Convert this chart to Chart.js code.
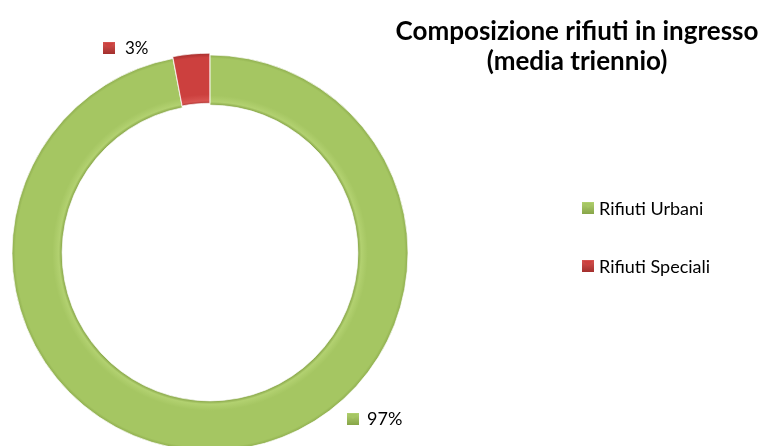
<!DOCTYPE html>
<html>
<head>
<meta charset="utf-8">
<script src="https://cdn.jsdelivr.net/npm/chart.js@4.4.0/dist/chart.umd.min.js"></script>
<style>
  html, body { margin: 0; padding: 0; background: #fff; overflow: hidden; }
  #wrap { position: relative; width: 759px; height: 470px; }
</style>
</head>
<body>
<div id="wrap"><canvas id="c"></canvas></div>
<script>
const categories = ['Rifiuti Urbani', 'Rifiuti Speciali'];
const values = [97, 3];
const titleLines = ['Composizione rifiuti in ingresso', '(media triennio)'];
const baseColors = ['#A5C662', '#CC403E'];
const edgeColors = ['#87A548', '#A32F2D'];
const lightColors = ['#B2D170', '#D85451'];

const FONT = 'Lato, "Open Sans", sans-serif';

function fillFor(ctx) {
  const i = ctx.dataIndex;
  const chart = ctx.chart;
  const ca = chart.chartArea;
  if (!ca) return baseColors[i];
  const cx = (ca.left + ca.right) / 2, cy = (ca.top + ca.bottom) / 2;
  const R = 198, r = R * 0.747;
  const g = chart.ctx.createRadialGradient(cx, cy, r, cx, cy, R + 4);
  g.addColorStop(0, edgeColors[i]);
  g.addColorStop(0.06, lightColors[i]);
  g.addColorStop(0.18, baseColors[i]);
  g.addColorStop(0.86, baseColors[i]);
  g.addColorStop(0.95, edgeColors[i]);
  g.addColorStop(1, edgeColors[i]);
  return g;
}

function marker(ctx, x, y, s, i) {
  const g = ctx.createLinearGradient(x, y, x, y + s);
  g.addColorStop(0, lightColors[i]);
  g.addColorStop(1, edgeColors[i]);
  ctx.fillStyle = g;
  ctx.fillRect(x, y, s, s);
  ctx.fillStyle = baseColors[i];
  ctx.beginPath();
  ctx.moveTo(x + 1, y + 1);
  ctx.lineTo(x + s - 1, y + 1);
  ctx.lineTo(x + s / 2, y + s / 2);
  ctx.closePath();
  ctx.fill();
}

const textPlugin = {
  id: 'texts',
  afterDraw(chart) {
    const ctx = chart.ctx;
    ctx.save();
    // title
    ctx.fillStyle = '#000';
    ctx.textAlign = 'center';
    ctx.textBaseline = 'alphabetic';
    ctx.font = 'bold 26px ' + FONT;
    ctx.fillText(titleLines[0], 577, 40);
    ctx.fillText(titleLines[1], 577, 70);
    // legend
    ctx.textAlign = 'left';
    ctx.font = '18px ' + FONT;
    const legY = [202, 260];
    categories.forEach((c, i) => {
      marker(ctx, 582, legY[i], 12, i);
      ctx.fillStyle = '#000';
      ctx.fillText(c, 599, legY[i] + 13);
    });
    // data labels
    const total = values.reduce((a, b) => a + b, 0);
    const pos = [{mx: 347, my: 413, tx: 367, ty: 425, fs: 18}, {mx: 103, my: 42, tx: 125, ty: 54, fs: 17}];
    values.forEach((v, i) => {
      const p = pos[i];
      marker(ctx, p.mx, p.my, 12, i);
      ctx.fillStyle = '#000';
      ctx.font = p.fs + 'px ' + FONT;
      ctx.fillText(Math.round(v / total * 100) + '%', p.tx, p.ty);
    });
    ctx.restore();
  }
};

new Chart(document.getElementById('c'), {
  type: 'doughnut',
  data: {
    labels: categories,
    datasets: [{
      data: values,
      backgroundColor: fillFor,
      borderColor: 'rgba(255,255,255,0.7)',
      borderWidth: 1,
      offset: [0, 4]
    }]
  },
  options: {
    responsive: true,
    maintainAspectRatio: false,
    animation: false,
    radius: 198,
    cutout: '74.7%',
    layout: { padding: { left: 7, right: 346, top: 50, bottom: 14 } },
    plugins: { legend: { display: false }, title: { display: false }, tooltip: { enabled: false } }
  },
  plugins: [textPlugin]
});
</script>
</body>
</html>
